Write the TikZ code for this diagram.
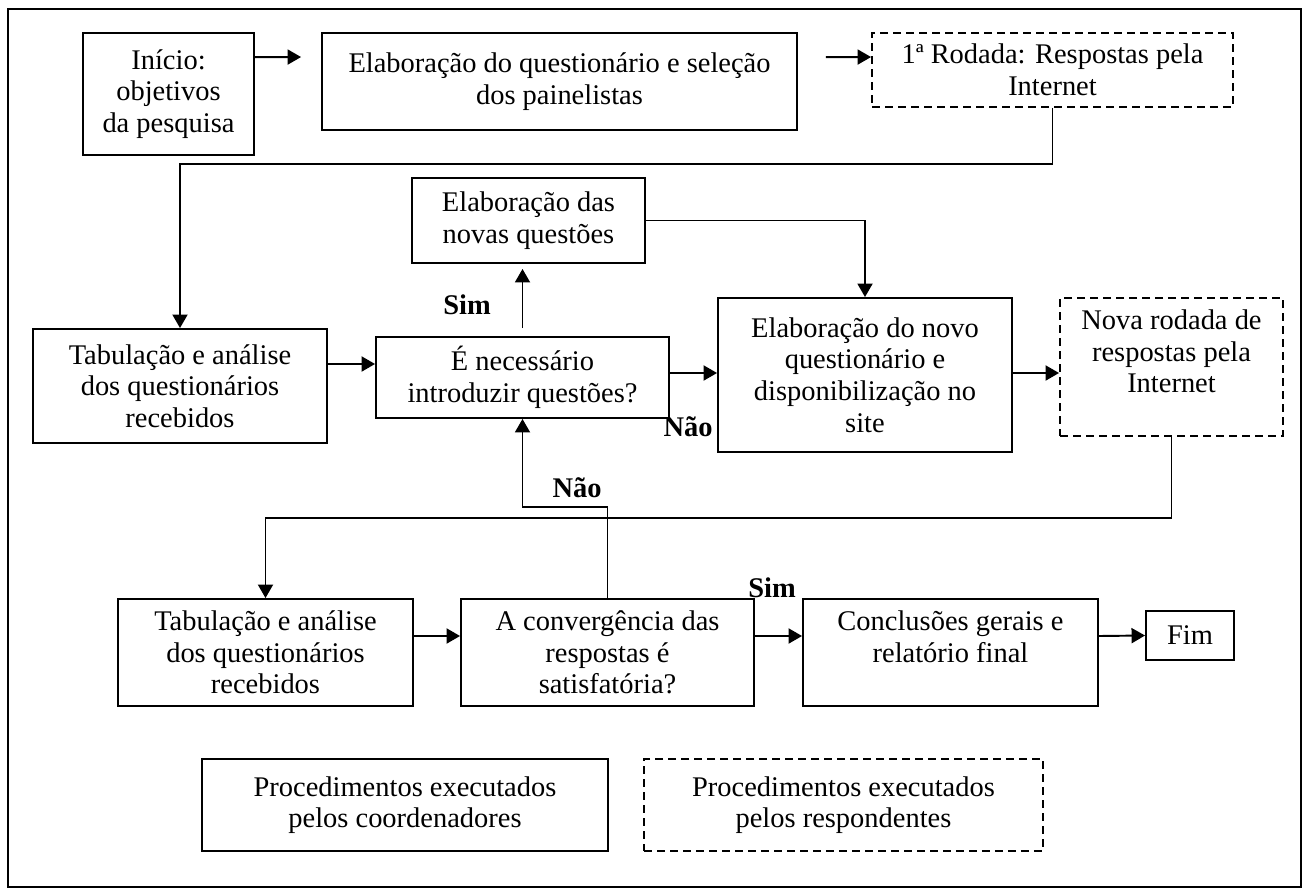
\documentclass[tikz,border=0pt]{standalone}
\usepackage{fontspec}
\setmainfont{Liberation Serif}
\usetikzlibrary{arrows.meta,calc}
\newcommand\fs{\fontsize{16.2pt}{18pt}\selectfont}
\begin{document}
\begin{tikzpicture}[x=0.02cm,y=-0.02cm,
  box/.style={draw,line width=1.1pt,inner sep=0pt,align=center,font=\fs},
  dbox/.style={box,dash pattern=on 0.16cm off 0.1cm},
  arr/.style={line width=1.1pt,-{Triangle[length=0.27cm,width=0.3cm]}},
  ln/.style={line width=1.1pt},
  lab/.style={font=\fs\bfseries,inner sep=0pt}]
\useasboundingbox (0,0) rectangle (1311,895);
\draw[line width=1.1pt] (8,9) rectangle (1301,887);
% boxes
\node[box,minimum width=3.42cm,minimum height=2.44cm] (b1) at (168.5,94) {Início:\\objetivos\\da pesquisa};
\node[box,minimum width=9.5cm,minimum height=1.94cm] (b2) at (559.5,81.5) {Elaboração do questionário e seleção\\dos painelistas};
\node[dbox,minimum width=7.22cm,minimum height=1.48cm] (b3) at (1052.5,70) {1ª Rodada: Respostas pela\\Internet};
\node[box,minimum width=4.66cm,minimum height=1.7cm] (b4) at (528.5,220.5) {Elaboração das\\novas questões};
\node[box,minimum width=5.88cm,minimum height=2.28cm] (b5) at (180,386) {Tabulação e análise\\dos questionários\\recebidos};
\node[box,minimum width=5.86cm,minimum height=1.62cm] (b6) at (522.5,377.5) {É necessário\\introduzir questões?};
\node[box,minimum width=5.88cm,minimum height=3.08cm] (b7) at (865,375) {Elaboração do novo\\questionário e\\disponibilização no\\site};
\node[dbox,minimum width=4.46cm,minimum height=2.76cm] (b8) at (1171.5,367) {Nova rodada de\\respostas pela\\Internet\\\mbox{}};
\node[box,minimum width=5.9cm,minimum height=2.14cm] (b9) at (265.5,652.5) {Tabulação e análise\\dos questionários\\recebidos};
\node[box,minimum width=5.86cm,minimum height=2.14cm] (b10) at (607.5,652.5) {A convergência das\\respostas é\\satisfatória?};
\node[box,minimum width=5.9cm,minimum height=2.14cm] (b11) at (950.5,652.5) {Conclusões gerais e\\relatório final\\\mbox{}};
\node[box,minimum width=1.76cm,minimum height=0.98cm] (b12) at (1190,635.5) {Fim};
\node[box,minimum width=8.12cm,minimum height=1.84cm] (b13) at (405,805) {Procedimentos executados\\pelos coordenadores};
\node[dbox,minimum width=7.98cm,minimum height=1.84cm] (b14) at (843.5,805) {Procedimentos executados\\pelos respondentes};
% labels
\node[lab] (sim1) at (467,305) {Sim};
\node[lab] (nao1) at (688,427) {Não};
\node[lab] (nao2) at (577,488) {Não};
\node[lab] (sim2) at (772,588) {Sim};
% connectors
\draw[arr] ($(b1.north east)+(0,25)$) -- ($(b2.north west)+(-20,25)$);
\draw[arr] ($(b2.north east)+(28,25)$) -- ($(b3.north west)+(0,25)$);
\draw[arr] (b3.south) -- ++(0,56) -| (b5.north);
\draw[arr] ($(b5.east)+(0,-22)$) -- ($(b6.west)+(0,-13.5)$);
\draw[arr] ($(b6.north)+(0,-8)$) -- ($(b6.north |- b4.south)+(0,5)$);
\draw[arr] (b4.east) -| (b7.north);
\draw[arr] ($(b6.east)+(0,-4.5)$) -- ($(b7.west)+(0,-2)$);
\draw[arr] ($(b7.east)+(0,-2)$) -- ($(b8.west)+(0,6)$);
\draw[arr] (b8.south) -- ++(0,81) -| (b9.north);
\draw[arr] (b10.north) -- ++(0,-91) -| (b6.south);
\draw[arr] ($(b9.east)+(0,-16.5)$) -- ($(b10.west)+(0,-16.5)$);
\draw[arr] ($(b10.east)+(0,-16.5)$) -- ($(b11.west)+(0,-16.5)$);
\draw[arr] ($(b11.east)+(0,-16.5)$) -- (b12.west);
\end{tikzpicture}
\end{document}
